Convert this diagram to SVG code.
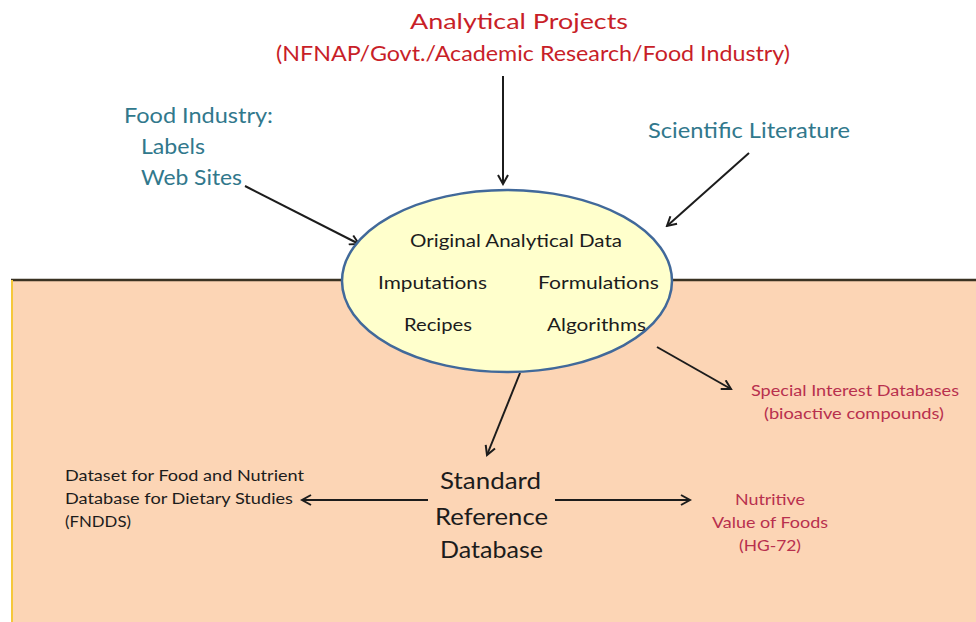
<svg xmlns="http://www.w3.org/2000/svg" width="976" height="622" viewBox="0 0 976 622">
<defs>
<style>
text{font-family:Lato,"Open Sans","Liberation Sans",sans-serif;}
.red{fill:#C81E28;font-size:21px;}
.teal{fill:#31788C;font-size:21px;}
.blk{fill:#1c1c1c;font-size:17px;}
.big{fill:#1c1c1c;font-size:24px;}
.sm{fill:#1c1c1c;font-size:15px;}
.mag{fill:#B8304E;font-size:15px;}
.conn{stroke:#1c1c1c;stroke-width:2;fill:none;marker-end:url(#ah);}
</style>
<marker id="ah" viewBox="0 0 12 12" refX="10" refY="6" markerWidth="6" markerHeight="6" orient="auto" markerUnits="strokeWidth">
<path d="M1,1 L10,6 L1,11" fill="none" stroke="#1c1c1c" stroke-width="2"/>
</marker>
</defs>
<rect width="976" height="622" fill="#ffffff"/>
<g id="ground">
<rect x="11" y="280" width="965" height="342" fill="#FCD5B5"/>
<line x1="11" y1="280" x2="976" y2="280" stroke="#3a3222" stroke-width="2.5"/>
<line x1="12" y1="280" x2="12" y2="622" stroke="#F5C83A" stroke-width="2"/>
</g>
<g id="connectors">
<line class="conn" x1="503" y1="76" x2="503" y2="184"/>
<line class="conn" x1="245" y1="186" x2="359" y2="244"/>
<line class="conn" x1="749" y1="153" x2="667" y2="226"/>
<line class="conn" x1="657" y1="347" x2="731" y2="389"/>
<line class="conn" x1="520" y1="373" x2="487" y2="455"/>
<line class="conn" x1="428" y1="500" x2="302" y2="500"/>
<line class="conn" x1="555" y1="500" x2="690" y2="500"/>
</g>
<g id="analytical-projects">
<text class="red" x="410" y="29" textLength="218" lengthAdjust="spacingAndGlyphs">Analytical Projects</text>
<text class="red" x="276" y="61" textLength="514" lengthAdjust="spacingAndGlyphs">(NFNAP/Govt./Academic Research/Food Industry)</text>
</g>
<g id="food-industry">
<text class="teal" x="124" y="123" textLength="149" lengthAdjust="spacingAndGlyphs">Food Industry:</text>
<text class="teal" x="141" y="154" textLength="64" lengthAdjust="spacingAndGlyphs">Labels</text>
<text class="teal" x="141" y="185" textLength="101" lengthAdjust="spacingAndGlyphs">Web Sites</text>
</g>
<g id="scientific-literature">
<text class="teal" x="648" y="138" textLength="202" lengthAdjust="spacingAndGlyphs">Scientific Literature</text>
</g>
<g id="core-data">
<ellipse cx="507" cy="281" rx="165" ry="91" fill="#FFFFCC" stroke="#41699A" stroke-width="2.5"/>
<text class="blk" x="410" y="247" textLength="212" lengthAdjust="spacingAndGlyphs">Original Analytical Data</text>
<text class="blk" x="378" y="289" textLength="109" lengthAdjust="spacingAndGlyphs">Imputations</text>
<text class="blk" x="538" y="289" textLength="121" lengthAdjust="spacingAndGlyphs">Formulations</text>
<text class="blk" x="404" y="331" textLength="68" lengthAdjust="spacingAndGlyphs">Recipes</text>
<text class="blk" x="547" y="331" textLength="99" lengthAdjust="spacingAndGlyphs">Algorithms</text>
</g>
<g id="special-interest">
<text class="mag" x="751" y="396" textLength="208" lengthAdjust="spacingAndGlyphs">Special Interest Databases</text>
<text class="mag" x="764" y="419" textLength="180" lengthAdjust="spacingAndGlyphs">(bioactive compounds)</text>
</g>
<g id="standard-reference">
<text class="big" x="440" y="489" textLength="101" lengthAdjust="spacingAndGlyphs">Standard</text>
<text class="big" x="435" y="525" textLength="113" lengthAdjust="spacingAndGlyphs">Reference</text>
<text class="big" x="440" y="558" textLength="103" lengthAdjust="spacingAndGlyphs">Database</text>
</g>
<g id="fndds">
<text class="sm" x="65" y="481" textLength="239" lengthAdjust="spacingAndGlyphs">Dataset for Food and Nutrient</text>
<text class="sm" x="65" y="504" textLength="228" lengthAdjust="spacingAndGlyphs">Database for Dietary Studies</text>
<text class="sm" x="65" y="527" textLength="66" lengthAdjust="spacingAndGlyphs">(FNDDS)</text>
</g>
<g id="nutritive-value">
<text class="mag" x="735" y="505" textLength="70" lengthAdjust="spacingAndGlyphs">Nutritive</text>
<text class="mag" x="712" y="528" textLength="116" lengthAdjust="spacingAndGlyphs">Value of Foods</text>
<text class="mag" x="739" y="551" textLength="62" lengthAdjust="spacingAndGlyphs">(HG-72)</text>
</g>
</svg>
